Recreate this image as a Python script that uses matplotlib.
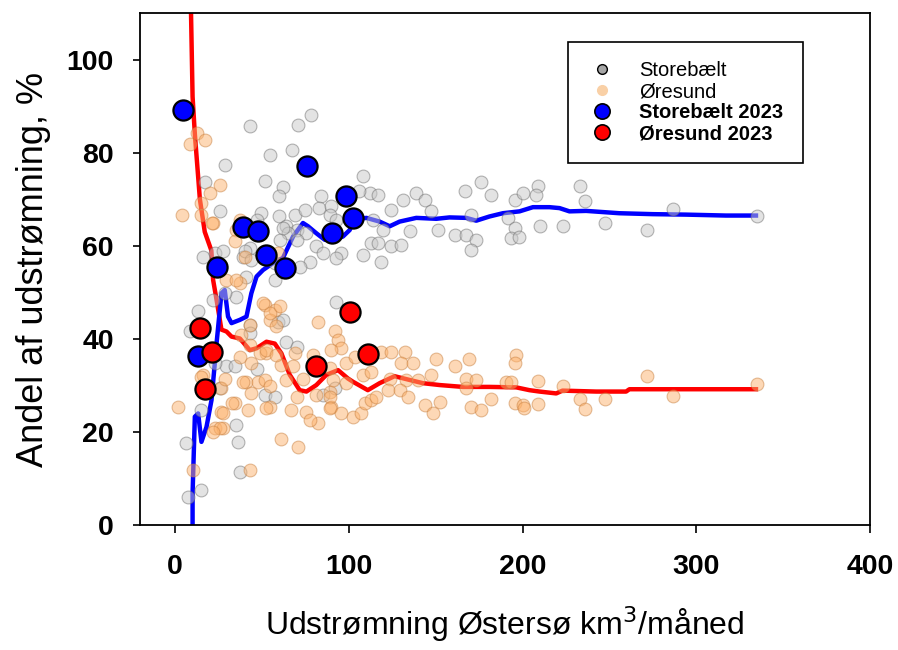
import matplotlib
matplotlib.use('Agg')
import matplotlib.pyplot as plt
from matplotlib.lines import Line2D

plt.rcParams['font.family'] = ['Liberation Sans', 'DejaVu Sans']

# Storebælt, all months (outflow km3/month, share %)
sb_x = [78.5, 70.9, 43.1, 67.6, 54.6, 28.7, 52.1, 62.3, 60.0, 84.3, 17.6, 26.2, 49.8, 59.8, 69.0,
        74.7, 82.8, 90.0, 16.3, 23.0, 47.0, 64.2, 70.0, 75.7, 65.1, 89.0, 92.9, 81.4, 85.2, 95.8,
        70.0, 60.3, 43.1, 39.3, 77.6, 92.9, 57.5, 71.8, 27.8, 40.2, 44.0, 35.4, 28.7, 13.4, 59.4,
        62.2, 41.2, 57.5, 22.0, 92.9, 62.2, 43.1, 43.1, 8.6, 64.2, 70.0, 29.7, 34.5, 47.0, 51.7,
        57.5, 92.0, 85.2, 15.3, 35.4, 36.4, 6.7, 37.4, 15.3, 7.7, 25.9, 23.0,
        108.2, 112.0, 106.0, 116.9, 131.2, 138.9, 143.7, 124.1, 114.0, 119.7, 135.0, 147.5, 151.3,
        166.7, 176.3, 182.0, 170.5, 160.9, 167.6, 173.4, 170.5, 195.4, 200.2, 191.6, 195.4, 193.5,
        113.0, 116.9, 124.5, 130.3, 108.2, 118.8,
        208.8, 207.9, 232.8, 236.2, 209.8, 223.2, 247.7, 271.6, 286.4, 334.7, 198.0]
sb_y = [88.2, 86.0, 85.7, 80.6, 79.4, 77.3, 74.0, 72.6, 70.8, 70.8, 73.8, 67.4, 67.0, 66.3, 66.7,
        67.6, 68.1, 68.6, 57.7, 58.5, 65.6, 64.2, 63.4, 62.7, 62.7, 66.7, 65.6, 59.9, 58.4, 58.4,
        61.3, 61.3, 59.5, 57.7, 56.6, 57.4, 56.3, 55.5, 58.8, 58.8, 57.0, 49.1, 49.8, 45.9, 43.7,
        63.8, 53.4, 52.7, 48.4, 48.0, 44.1, 43.0, 41.2, 41.6, 39.4, 38.3, 34.1, 34.1, 33.5, 28.0,
        27.6, 29.4, 28.0, 24.7, 21.5, 17.9, 17.6, 11.5, 7.5, 6.1, 29.4, 34.8,
        74.9, 71.3, 71.7, 71.0, 69.9, 71.3, 69.9, 67.7, 65.6, 63.4, 63.1, 67.4, 63.4,
        71.7, 73.8, 71.0, 66.7, 62.4, 62.4, 61.3, 59.1, 69.9, 71.3, 66.0, 63.8, 61.7,
        60.6, 60.6, 59.9, 60.2, 58.1, 56.6,
        72.9, 71.0, 72.9, 69.7, 64.2, 64.3, 65.0, 63.4, 67.9, 66.5, 62.0]

# Øresund, all months
oe_x = [12.5, 17.2, 8.6, 25.9, 20.1, 15.3, 4.2, 15.3, 22.0, 35.4, 37.4, 40.2, 59.4,
        21.1, 34.5, 29.7, 37.4, 51.7, 57.5, 54.6, 58.4, 43.1,
        1.9, 10.5, 43.1, 23.0, 27.8, 26.8, 34.5, 26.8, 41.2, 47.9, 44.0, 51.7, 54.6, 61.3, 70.9,
        67.0, 75.7, 82.4, 77.6, 81.4, 90.0, 89.0, 82.4, 92.0, 93.9, 95.8, 90.0, 79.5, 89.0, 69.0,
        68.0, 61.3, 52.7, 54.6, 60.3, 50.7, 38.3, 37.4, 43.1, 48.9, 44.0, 35.4, 16.3,
        15.3, 28.7, 39.3, 54.6, 27.8, 32.6, 42.1, 52.7, 70.0, 25.9, 22.0, 52.7, 58.4, 64.2, 73.7,
        98.7, 103.4, 118.8, 124.5, 132.2, 130.3, 137.0, 150.4, 160.9, 169.5, 196.4, 195.4, 91.0,
        98.7, 108.2, 113.0, 123.6, 133.2, 139.8, 147.5, 167.6, 173.4, 190.6, 193.5, 89.0, 89.0,
        95.8, 102.5, 107.3, 109.2, 113.0, 116.0, 122.6, 129.3, 134.1, 143.7, 148.5, 152.3, 167.6,
        170.5, 176.3, 182.0, 195.4, 200.2,
        208.8, 223.2, 232.8, 236.2, 247.7, 271.6, 286.4, 334.7, 208.8, 201.0]
oe_y = [84.2, 82.8, 81.9, 73.1, 71.3, 69.2, 66.7, 66.7, 65.0, 63.4, 65.6, 57.7, 58.4,
        64.9, 61.0, 52.7, 52.0, 47.3, 46.2, 44.1, 42.7, 43.0,
        25.4, 11.8, 11.8, 20.8, 20.8, 24.4, 26.2, 29.4, 30.8, 30.8, 28.3, 31.2, 25.4, 18.6, 16.8,
        24.7, 24.4, 21.9, 22.6, 28.0, 25.4, 28.7, 43.7, 41.6, 39.8, 38.0, 37.6, 36.6, 33.7, 36.9,
        34.1, 34.4, 36.9, 45.5, 47.0, 47.7, 40.9, 36.2, 38.7, 36.9, 34.8, 52.7, 32.3,
        31.9, 31.5, 30.8, 29.8, 24.0, 26.2, 24.7, 25.1, 27.6, 20.8, 20.1, 37.6, 36.6, 31.2, 31.5,
        34.8, 36.2, 37.1, 37.3, 37.3, 34.8, 34.8, 35.6, 34.1, 35.6, 36.6, 34.8, 31.2,
        30.5, 32.3, 33.0, 31.4, 31.2, 31.2, 32.3, 31.4, 31.2, 30.8, 30.8, 27.6, 25.1,
        24.0, 23.3, 24.0, 26.2, 26.9, 27.6, 29.0, 29.0, 27.6, 25.8, 24.0, 26.5, 29.4,
        25.4, 24.7, 27.2, 26.2, 25.8,
        31.0, 30.0, 27.2, 24.9, 27.0, 32.1, 27.7, 30.3, 26.0, 25.2]

# 2023 months
sb23_x = [4.4, 13.4, 24.0, 39.3, 47.9, 52.3, 63.2, 76.0, 90.6, 98.7, 102.3]
sb23_y = [89.2, 36.3, 55.5, 64.0, 63.2, 58.1, 55.2, 77.1, 62.7, 70.6, 66.0]
oe23_x = [14.4, 21.6, 17.2, 81.0, 100.6, 111.0]
oe23_y = [42.3, 37.3, 29.2, 34.1, 45.8, 36.8]

# running means
sb_line_x = [10.2, 10.2, 11.5, 13.4, 15.3, 18.2, 21.1, 24.0, 26.8, 28.7, 30.6, 32.6, 37.4, 41.2,
             44.0, 47.0, 50.7, 56.5, 62.2, 68.0, 73.7, 76.6, 81.4, 86.2, 91.0, 96.7, 100.6, 102.5,
             110.2, 117.8, 123.6, 129.3, 138.9, 150.4, 158.0, 167.6, 173.4, 181.0, 188.7, 198.3,
             206.0, 215.5, 221.3, 227.0, 236.6, 255.7, 274.9, 294.0, 317.0, 334.3]
sb_line_y = [-2.0, 6.8, 23.3, 24.0, 17.9, 21.1, 26.9, 39.1, 49.8, 50.5, 44.8, 43.4, 44.1, 44.8,
             49.8, 53.4, 54.8, 56.3, 57.4, 62.0, 64.9, 64.2, 62.7, 61.3, 61.2, 62.0, 63.4, 65.6,
             66.0, 65.2, 64.2, 65.2, 66.0, 65.8, 66.1, 66.0, 65.4, 66.3, 67.0, 67.4,
             68.3, 68.3, 68.1, 67.4, 67.5, 67.0, 66.8, 66.7, 66.5, 66.5]
oe_line_x = [9.1, 9.3, 10.2, 11.5, 14.4, 17.2, 21.0, 22.0, 24.0, 26.8, 29.7, 32.6, 37.4, 43.1,
             47.0, 52.7, 57.5, 61.3, 66.1, 71.8, 75.7, 81.4, 87.2, 93.9, 99.6, 102.5, 111.0, 117.8,
             126.4, 135.0, 142.7, 152.3, 165.7, 181.0, 196.4, 204.0, 209.8, 219.4, 223.0, 242.4,
             259.6, 261.5, 334.3]
oe_line_y = [114.0, 110.0, 92.0, 84.0, 70.0, 63.0, 59.0, 52.7, 48.4, 42.0, 41.6, 40.5, 40.1, 37.6,
             38.0, 39.4, 39.0, 36.9, 32.3, 29.0, 28.7, 30.1, 32.3, 33.3, 31.5, 30.8, 29.0, 30.5,
             32.0, 31.2, 30.5, 30.1, 29.7, 29.7, 29.6, 29.0, 28.7, 28.3, 28.9, 28.7,
             28.7, 29.2, 29.2]

fig = plt.figure(figsize=(8.98, 6.5), dpi=100)
ax = fig.add_axes([0.156, 0.192, 0.813, 0.788])

ax.plot(oe_line_x, oe_line_y, color='#ff0000', lw=3.2, zorder=2)
ax.plot(sb_line_x, sb_line_y, color='#0000ff', lw=3.2, zorder=2)

ax.scatter(sb_x, sb_y, s=85, facecolor='#c8c8c8', edgecolor='#6e6e6e', linewidths=0.8,
           alpha=0.5, zorder=3)
ax.scatter(oe_x, oe_y, s=85, facecolor='#fdb36e', edgecolor='#c88040', linewidths=0.8,
           alpha=0.5, zorder=3)

ax.scatter(sb23_x, sb23_y, s=210, facecolor='#0000ff', edgecolor='black', linewidths=1.6, zorder=5)
ax.scatter(oe23_x, oe23_y, s=210, facecolor='#ff0000', edgecolor='black', linewidths=1.6, zorder=5)

ax.set_xlim(-20, 400)
ax.set_ylim(0, 110)
ax.set_xticks([0, 100, 200, 300, 400])
ax.set_yticks([0, 20, 40, 60, 80, 100])
ax.tick_params(axis='both', direction='out', labelsize=20.5, width=1.2, colors='black')
ax.tick_params(axis='x', length=6, pad=15)
ax.tick_params(axis='y', length=5, pad=14)
for lab in ax.get_xticklabels() + ax.get_yticklabels():
    lab.set_fontweight('bold')
for sp in ax.spines.values():
    sp.set_linewidth(1.3)

ax.set_xlabel('Udstrømning Østersø km$^3$/måned', fontsize=23, labelpad=17)
ax.set_ylabel('Andel af udstrømning, %', fontsize=26, labelpad=11)

handles = [
    Line2D([], [], ls='none', marker='o', markersize=7, markerfacecolor='#a6a6a6',
           markeredgecolor='black', markeredgewidth=1.0),
    Line2D([], [], ls='none', marker='o', markersize=7, markerfacecolor='#f9d0a6',
           markeredgecolor='#f9d0a6'),
    Line2D([], [], ls='none', marker='o', markersize=11, markerfacecolor='#0000ff',
           markeredgecolor='black', markeredgewidth=1.2),
    Line2D([], [], ls='none', marker='o', markersize=11, markerfacecolor='#ff0000',
           markeredgecolor='black', markeredgewidth=1.2),
]
labels = ['Storebælt', 'Øresund', 'Storebælt 2023', 'Øresund 2023']
leg = ax.legend(handles, labels, loc='upper left', bbox_to_anchor=(0.586, 0.943),
                borderaxespad=0, fontsize=14.5, labelspacing=0.1, handlelength=1.5,
                handletextpad=1.1, borderpad=0.95, fancybox=False, framealpha=1,
                edgecolor='black')
leg.get_frame().set_linewidth(1.2)
for t in leg.get_texts()[2:]:
    t.set_fontweight('bold')

fig.savefig('out.png', dpi=100)
